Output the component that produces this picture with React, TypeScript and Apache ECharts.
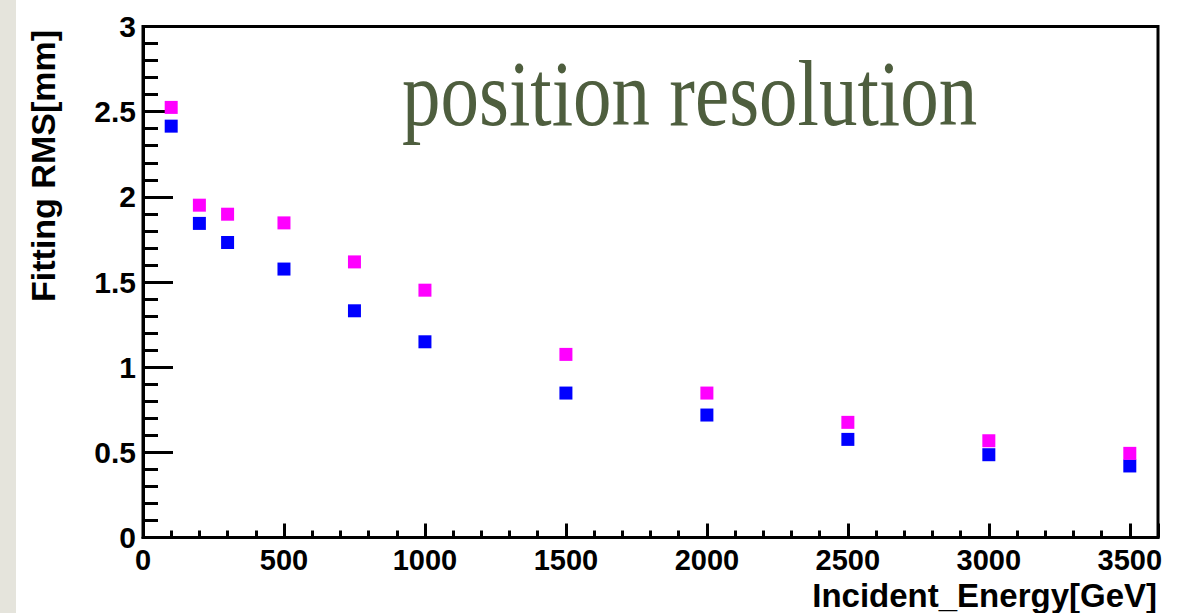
import React, { useEffect, useRef } from "react";
import * as echarts from "echarts";

const energies = [100, 200, 300, 500, 750, 1000, 1500, 2000, 2500, 3000, 3500];
const magentaRms = [2.525, 1.951, 1.898, 1.847, 1.618, 1.452, 1.075, 0.848, 0.676, 0.568, 0.494];
const blueRms = [2.415, 1.844, 1.732, 1.576, 1.331, 1.149, 0.848, 0.719, 0.576, 0.486, 0.42];

const chartTitle = "position resolution";
const xTitle = "Incident_Energy[GeV]";
const yTitle = "Fitting RMS[mm]";

export default function App() {
  const ref = useRef<HTMLDivElement>(null);
  useEffect(() => {
    if (!ref.current) return;
    const chart = echarts.init(ref.current, null, { renderer: "svg" });
    const labelFont = {
      fontFamily: "'Liberation Sans', Arial, sans-serif",
      fontWeight: "bold" as const,
      fontSize: 30,
      color: "#000",
    };
    chart.setOption({
      animation: false,
      backgroundColor: "#ffffff",
      grid: {
        left: 143,
        top: 26.5,
        right: 34,
        bottom: 75.5,
        show: true,
        borderColor: "#000",
        borderWidth: 3,
        backgroundColor: "transparent",
      },
      xAxis: {
        type: "value",
        min: 0,
        max: 3600,
        interval: 500,
        axisLine: { show: true, lineStyle: { color: "#000", width: 3 } },
        axisTick: { show: true, inside: true, length: 14, lineStyle: { color: "#000", width: 3 } },
        minorTick: { show: true, splitNumber: 5, length: 7, lineStyle: { color: "#000", width: 3 } },
        splitLine: { show: false },
        axisLabel: {
          ...labelFont,
          fontSize: 29,
          margin: 8,
          showMaxLabel: false,
          formatter: (v: number) => String(v),
        },
      },
      yAxis: {
        type: "value",
        min: 0,
        max: 3,
        interval: 0.5,
        axisLine: { show: true, lineStyle: { color: "#000", width: 3 } },
        axisTick: { show: true, inside: true, length: 30, lineStyle: { color: "#000", width: 3 } },
        minorTick: { show: true, splitNumber: 5, length: 15, lineStyle: { color: "#000", width: 3 } },
        splitLine: { show: false },
        axisLabel: { ...labelFont, margin: 7, formatter: (v: number) => String(v) },
      },
      graphic: [
        {
          type: "rect",
          shape: { x: 0, y: 0, width: 16, height: 613 },
          style: { fill: "#e5e4dc" },
          z: -10,
        },
        {
          type: "text",
          x: 402,
          y: 140,
          scaleY: 1.2,
          style: {
            text: chartTitle,
            fill: "#4e5e3e",
            font: "77px 'Liberation Serif', 'Times New Roman', serif",
            textAlign: "left",
            textVerticalAlign: "bottom",
          },
        },
        {
          type: "text",
          x: 1157,
          y: 595.5,
          style: {
            text: xTitle,
            fill: "#000",
            font: "bold 33px 'Liberation Sans', Arial, sans-serif",
            textAlign: "right",
            textVerticalAlign: "middle",
          },
        },
        {
          type: "text",
          x: 43,
          y: 30,
          rotation: Math.PI / 2,
          style: {
            text: yTitle,
            fill: "#000",
            font: "bold 34px 'Liberation Sans', Arial, sans-serif",
            textAlign: "right",
            textVerticalAlign: "middle",
          },
        },
      ],
      series: [
        {
          type: "scatter",
          symbol: "rect",
          symbolSize: 13,
          itemStyle: { color: "#0000ff", opacity: 1 },
          data: energies.map((e, i) => [e, blueRms[i]]),
        },
        {
          type: "scatter",
          symbol: "rect",
          symbolSize: 13,
          itemStyle: { color: "#ff00ff", opacity: 1 },
          data: energies.map((e, i) => [e, magentaRms[i]]),
        },
      ],
    });
    return () => chart.dispose();
  }, []);
  return (
    <div
      ref={ref}
      style={{ position: "absolute", left: 0, top: 0, width: 1192, height: 613 }}
    />
  );
}
